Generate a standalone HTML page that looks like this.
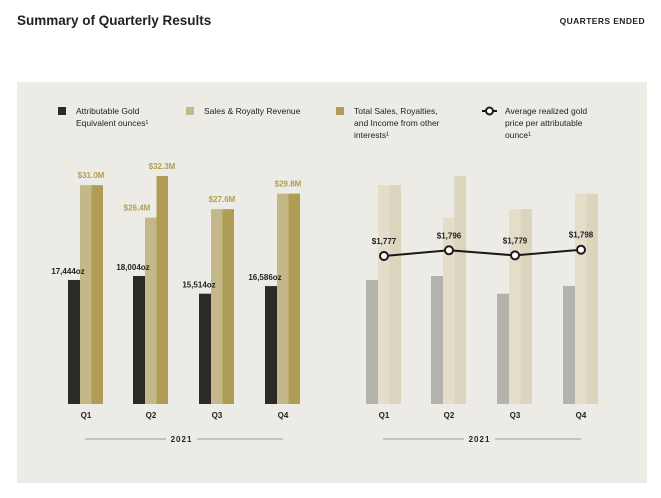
<!DOCTYPE html>
<html><head><meta charset="utf-8"><style>
body{margin:0;background:#fff;width:661px;height:493px;overflow:hidden;font-family:"Liberation Sans",sans-serif}
svg text{font-family:"Liberation Sans",sans-serif}
</style></head><body>
<svg id="c" width="661" height="493">
<text x="17" y="25" font-size="13.5" font-weight="bold" fill="#222">Summary of Quarterly Results</text>
<text x="645" y="24" font-size="8.5" font-weight="bold" fill="#222" text-anchor="end" letter-spacing="0.4">QUARTERS ENDED</text>
<rect x="17" y="82" width="630" height="401" fill="#edebe6"/>
<g font-size="8.5" fill="#222">
<rect x="58" y="107" width="8" height="8" fill="#2b2a28"/>
<text x="76" y="114"><tspan x="76">Attributable Gold</tspan><tspan x="76" dy="12">Equivalent ounces¹</tspan></text>
<rect x="186" y="107" width="8" height="8" fill="#c4b888"/>
<text x="204" y="114">Sales &amp; Royalty Revenue</text>
<rect x="336" y="107" width="8" height="8" fill="#b09d55"/>
<text x="354" y="114"><tspan x="354">Total Sales, Royalties,</tspan><tspan x="354" dy="12">and Income from other</tspan><tspan x="354" dy="12">interests¹</tspan></text>
<line x1="482" y1="111" x2="497" y2="111" stroke="#1a1a1a" stroke-width="2"/>
<circle cx="489.5" cy="111" r="3.5" fill="#fff" stroke="#1a1a1a" stroke-width="2"/>
<text x="505" y="114"><tspan x="505">Average realized gold</tspan><tspan x="505" dy="12">price per attributable</tspan><tspan x="505" dy="12">ounce¹</tspan></text>
</g>
<g id="marks"></g>
</svg>
<script>
const quarters=["Q1","Q2","Q3","Q4"];
const ounces=[17444,18004,15514,16586];
const revenue=[31.0,26.4,27.6,29.8];
const total=[31.0,32.3,27.6,29.8];
const price=[1777,1796,1779,1798];
const ounceLabels=["17,444oz","18,004oz","15,514oz","16,586oz"];
const totalLabels=["$31.0M","$32.3M","$27.6M","$29.8M"];
const revLabels=["$31.0M","$26.4M","$27.6M","$29.8M"];
const priceLabels=["$1,777","$1,796","$1,779","$1,798"];

const NS="http://www.w3.org/2000/svg";
const g=document.getElementById('marks');
const base=404;
const yM=v=>base-v*7.06;
const yOz=v=>base-v*0.00711;
const yP=v=>256-(v-1777)*0.3;
function el(t,a,txt){const e=document.createElementNS(NS,t);for(const k in a)e.setAttribute(k,a[k]);if(txt!==undefined)e.textContent=txt;g.appendChild(e);return e;}
const leftX=[68,133,199,265];
function drawChart(off,faded){
  quarters.forEach((q,i)=>{
    const x=leftX[i]+off;
    let r=el('rect',{x:x,y:yOz(ounces[i]),width:12,height:base-yOz(ounces[i]),fill:faded?'#b4b2ad':'#2b2a28'});
    
    
    r=el('rect',{x:x+12,y:yM(revenue[i]),width:11.5,height:base-yM(revenue[i]),fill:faded?'#e3ddc9':'#c4b888'});
    
    
    r=el('rect',{x:x+23.5,y:yM(total[i]),width:11.5,height:base-yM(total[i]),fill:faded?'#dcd5bd':'#b09d55'});
    
    
    let t=el('text',{x:x+18,y:418,'font-size':8,'font-weight':'bold','text-anchor':'middle',fill:'#222'},q);
    
    
    if(!faded){
      t=el('text',{x:x,y:yOz(ounces[i])-6,'font-size':8,'font-weight':'bold','text-anchor':'middle',fill:'#222'},ounceLabels[i]);
      
      
      const differs=revenue[i]!==total[i];
      t=el('text',{x:x+(differs?29:23),y:yM(total[i])-7,'font-size':8,'font-weight':'bold','text-anchor':'middle',fill:'#b09d55'},totalLabels[i]);
      
      
      if(differs){
        t=el('text',{x:x+4,y:yM(revenue[i])-7,'font-size':8,'font-weight':'bold','text-anchor':'middle',fill:'#b09d55'},revLabels[i]);
        
        
      }
    }
  });
  let l=el('line',{x1:85+off,y1:439,x2:166+off,y2:439,stroke:'#999','stroke-width':1});
  
  
  l=el('line',{x1:197+off,y1:439,x2:283+off,y2:439,stroke:'#999','stroke-width':1});
  
  
  const t=el('text',{x:181.5+off,y:442,'font-size':8,'font-weight':'bold','text-anchor':'middle',fill:'#222','letter-spacing':'1'},'2021');
  
  
}
drawChart(0,false);
drawChart(298,true);
const px=quarters.map((q,i)=>leftX[i]+298+18);
const pl=el('polyline',{points:px.map((x,i)=>x+','+yP(price[i])).join(' '),fill:'none',stroke:'#1a1a1a','stroke-width':2});


quarters.forEach((q,i)=>{
  const c=el('circle',{cx:px[i],cy:yP(price[i]),r:4,fill:'#fff',stroke:'#1a1a1a','stroke-width':2});
  
  
  const t=el('text',{x:px[i],y:yP(price[i])-12,'font-size':8,'font-weight':'bold','text-anchor':'middle',fill:'#222'},priceLabels[i]);
  
  
});
</script>
</body></html>
